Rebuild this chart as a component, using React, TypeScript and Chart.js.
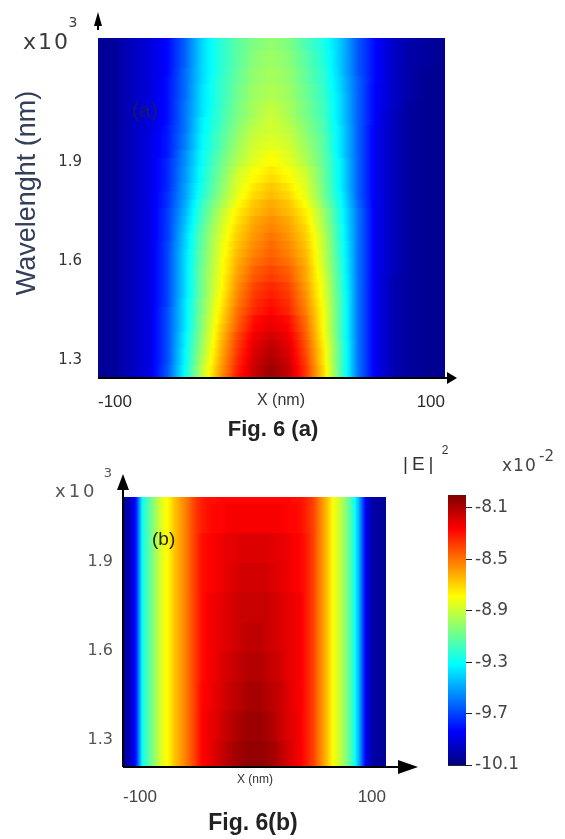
import React, { useEffect, useRef } from "react";
import { Chart, registerables } from "chart.js";

Chart.register(...registerables);

// ---------------- data ----------------
// colour scale (|E|^2, x10^-2)
const COLOR_MIN = -10.1;
const COLOR_MAX = -8.0;
const COLOR_TICKS = [-8.1, -8.5, -8.9, -9.3, -9.7, -10.1];

// shared axis ticks
const WAVELENGTH_TICKS = [1.3, 1.6, 1.9];
const X_TICKS = [-100, 100];

// Fig. 6 (a): one row of |E|^2 per wavelength, one value per X_A
const X_A = [-100, -90, -80, -70, -60, -50, -40, -30, -20, -10, 0, 10, 20, 30, 40, 50, 60, 70, 80, 90, 100];
const WAVELENGTH_A = [
  1.25, 1.275, 1.3, 1.325, 1.35, 1.375, 1.4, 1.425, 1.45, 1.475, 1.5, 1.525, 1.55, 1.575, 1.6, 1.625, 1.65, 1.675,
  1.7, 1.725, 1.75, 1.775, 1.8, 1.825, 1.85, 1.875, 1.9, 1.925, 1.95, 1.975, 2.0, 2.025, 2.05, 2.075, 2.1, 2.125,
  2.15, 2.175, 2.2, 2.225, 2.25, 2.275,
];
const FIELD_A = [
  [-10.06, -10.04, -9.97, -9.89, -9.66, -9.30, -8.92, -8.59, -8.32, -8.15, -8.06, -8.15, -8.38, -8.71, -9.16, -9.60, -9.87, -9.99, -10.04, -10.06, -10.06],
  [-10.06, -10.04, -9.97, -9.89, -9.66, -9.30, -8.92, -8.61, -8.34, -8.15, -8.06, -8.15, -8.38, -8.71, -9.16, -9.60, -9.87, -9.99, -10.04, -10.06, -10.06],
  [-10.06, -10.04, -9.97, -9.89, -9.68, -9.32, -8.95, -8.63, -8.36, -8.17, -8.08, -8.17, -8.40, -8.74, -9.16, -9.60, -9.87, -9.99, -10.04, -10.06, -10.06],
  [-10.06, -10.04, -9.97, -9.89, -9.68, -9.32, -8.97, -8.65, -8.38, -8.19, -8.11, -8.19, -8.42, -8.74, -9.16, -9.60, -9.87, -9.99, -10.04, -10.06, -10.06],
  [-10.06, -10.04, -9.97, -9.89, -9.68, -9.34, -8.99, -8.67, -8.40, -8.21, -8.13, -8.21, -8.44, -8.76, -9.16, -9.60, -9.87, -9.99, -10.04, -10.06, -10.06],
  [-10.06, -10.04, -9.97, -9.89, -9.68, -9.34, -9.01, -8.69, -8.42, -8.23, -8.17, -8.23, -8.46, -8.78, -9.18, -9.60, -9.87, -9.99, -10.04, -10.06, -10.06],
  [-10.06, -10.04, -9.97, -9.89, -9.68, -9.37, -9.03, -8.71, -8.46, -8.27, -8.21, -8.27, -8.48, -8.80, -9.18, -9.60, -9.87, -9.99, -10.04, -10.06, -10.06],
  [-10.06, -10.04, -9.97, -9.89, -9.68, -9.37, -9.03, -8.74, -8.48, -8.29, -8.23, -8.29, -8.50, -8.80, -9.18, -9.60, -9.87, -9.99, -10.04, -10.06, -10.06],
  [-10.06, -10.04, -9.97, -9.89, -9.68, -9.37, -9.05, -8.76, -8.50, -8.34, -8.27, -8.34, -8.53, -8.80, -9.18, -9.60, -9.87, -9.99, -10.04, -10.06, -10.06],
  [-10.06, -10.04, -9.97, -9.89, -9.70, -9.37, -9.05, -8.78, -8.53, -8.36, -8.29, -8.36, -8.55, -8.82, -9.18, -9.60, -9.87, -9.99, -10.04, -10.06, -10.06],
  [-10.06, -10.04, -9.97, -9.89, -9.70, -9.39, -9.07, -8.80, -8.55, -8.38, -8.32, -8.38, -8.57, -8.84, -9.18, -9.60, -9.87, -9.99, -10.04, -10.06, -10.06],
  [-10.06, -10.04, -9.97, -9.89, -9.70, -9.39, -9.07, -8.82, -8.57, -8.40, -8.34, -8.40, -8.59, -8.84, -9.20, -9.60, -9.87, -9.99, -10.04, -10.06, -10.06],
  [-10.06, -10.04, -9.97, -9.89, -9.70, -9.39, -9.07, -8.82, -8.59, -8.44, -8.38, -8.44, -8.61, -8.86, -9.20, -9.60, -9.87, -9.99, -10.04, -10.06, -10.06],
  [-10.06, -10.04, -9.97, -9.89, -9.70, -9.39, -9.07, -8.84, -8.61, -8.46, -8.40, -8.46, -8.61, -8.88, -9.22, -9.60, -9.87, -9.97, -10.04, -10.06, -10.06],
  [-10.06, -10.04, -9.97, -9.89, -9.70, -9.39, -9.09, -8.84, -8.63, -8.50, -8.44, -8.50, -8.63, -8.90, -9.22, -9.60, -9.87, -9.97, -10.04, -10.06, -10.06],
  [-10.06, -10.04, -9.97, -9.89, -9.70, -9.39, -9.09, -8.86, -8.65, -8.53, -8.46, -8.53, -8.65, -8.90, -9.24, -9.60, -9.87, -9.97, -10.04, -10.06, -10.06],
  [-10.06, -10.04, -9.97, -9.89, -9.70, -9.41, -9.11, -8.86, -8.67, -8.55, -8.48, -8.55, -8.67, -8.92, -9.24, -9.60, -9.87, -9.97, -10.04, -10.06, -10.06],
  [-10.06, -10.04, -9.97, -9.89, -9.72, -9.41, -9.11, -8.88, -8.69, -8.57, -8.50, -8.57, -8.69, -8.92, -9.26, -9.60, -9.87, -9.97, -10.04, -10.06, -10.06],
  [-10.06, -10.04, -9.97, -9.89, -9.72, -9.43, -9.13, -8.90, -8.71, -8.59, -8.53, -8.59, -8.71, -8.95, -9.26, -9.60, -9.87, -9.97, -10.04, -10.06, -10.06],
  [-10.06, -10.04, -9.97, -9.89, -9.72, -9.45, -9.16, -8.92, -8.74, -8.61, -8.55, -8.61, -8.74, -8.97, -9.28, -9.60, -9.87, -9.97, -10.04, -10.06, -10.06],
  [-10.06, -10.04, -9.97, -9.89, -9.72, -9.47, -9.18, -8.95, -8.76, -8.65, -8.59, -8.65, -8.76, -8.99, -9.28, -9.60, -9.87, -9.97, -10.04, -10.06, -10.06],
  [-10.06, -10.04, -9.97, -9.89, -9.74, -9.49, -9.20, -8.99, -8.80, -8.67, -8.61, -8.67, -8.80, -9.03, -9.30, -9.62, -9.87, -9.97, -10.04, -10.06, -10.06],
  [-10.06, -10.04, -9.97, -9.89, -9.74, -9.51, -9.24, -9.03, -8.84, -8.71, -8.65, -8.71, -8.84, -9.07, -9.32, -9.64, -9.87, -9.97, -10.04, -10.06, -10.06],
  [-10.06, -10.04, -9.97, -9.89, -9.76, -9.51, -9.26, -9.05, -8.86, -8.74, -8.67, -8.74, -8.86, -9.07, -9.34, -9.64, -9.87, -9.97, -10.04, -10.06, -10.06],
  [-10.06, -10.04, -9.97, -9.89, -9.76, -9.53, -9.28, -9.07, -8.88, -8.78, -8.71, -8.78, -8.88, -9.09, -9.34, -9.64, -9.87, -9.97, -10.04, -10.06, -10.06],
  [-10.06, -10.04, -9.97, -9.89, -9.76, -9.53, -9.28, -9.09, -8.90, -8.80, -8.74, -8.80, -8.90, -9.09, -9.34, -9.64, -9.87, -9.97, -10.04, -10.06, -10.06],
  [-10.06, -10.04, -9.97, -9.89, -9.76, -9.55, -9.30, -9.11, -8.95, -8.84, -8.78, -8.84, -8.95, -9.11, -9.34, -9.64, -9.87, -9.97, -10.04, -10.06, -10.06],
  [-10.06, -10.04, -9.97, -9.89, -9.79, -9.55, -9.30, -9.13, -8.97, -8.86, -8.80, -8.86, -8.97, -9.11, -9.37, -9.64, -9.87, -9.97, -10.04, -10.06, -10.06],
  [-10.06, -10.04, -9.97, -9.89, -9.79, -9.58, -9.32, -9.16, -8.99, -8.88, -8.84, -8.88, -8.99, -9.13, -9.37, -9.64, -9.87, -9.97, -10.04, -10.06, -10.06],
  [-10.06, -10.04, -9.97, -9.89, -9.79, -9.58, -9.32, -9.16, -9.01, -8.90, -8.86, -8.90, -9.01, -9.13, -9.37, -9.64, -9.87, -9.97, -10.04, -10.06, -10.06],
  [-10.06, -10.04, -9.97, -9.91, -9.79, -9.60, -9.34, -9.18, -9.03, -8.92, -8.88, -8.92, -9.03, -9.16, -9.37, -9.64, -9.87, -9.97, -10.04, -10.06, -10.06],
  [-10.06, -10.04, -9.97, -9.91, -9.81, -9.60, -9.34, -9.20, -9.05, -8.95, -8.88, -8.95, -9.05, -9.16, -9.39, -9.64, -9.85, -9.97, -10.04, -10.06, -10.06],
  [-10.06, -10.04, -9.97, -9.91, -9.81, -9.60, -9.37, -9.20, -9.07, -8.97, -8.90, -8.97, -9.07, -9.18, -9.39, -9.64, -9.85, -9.97, -10.04, -10.06, -10.06],
  [-10.06, -10.04, -9.97, -9.91, -9.81, -9.60, -9.37, -9.22, -9.07, -8.97, -8.92, -8.97, -9.07, -9.18, -9.39, -9.64, -9.85, -9.95, -10.04, -10.06, -10.06],
  [-10.06, -10.04, -9.97, -9.91, -9.81, -9.62, -9.37, -9.22, -9.09, -8.99, -8.95, -8.99, -9.09, -9.20, -9.39, -9.64, -9.85, -9.95, -10.02, -10.06, -10.06],
  [-10.06, -10.04, -9.97, -9.91, -9.81, -9.62, -9.37, -9.22, -9.09, -8.99, -8.95, -8.99, -9.09, -9.20, -9.41, -9.64, -9.85, -9.95, -10.02, -10.06, -10.06],
  [-10.06, -10.04, -9.97, -9.91, -9.81, -9.62, -9.39, -9.22, -9.11, -9.01, -8.97, -9.01, -9.11, -9.22, -9.41, -9.64, -9.83, -9.95, -10.02, -10.06, -10.06],
  [-10.06, -10.04, -9.97, -9.91, -9.83, -9.62, -9.39, -9.24, -9.11, -9.01, -8.97, -9.01, -9.11, -9.22, -9.43, -9.66, -9.83, -9.95, -10.02, -10.06, -10.06],
  [-10.06, -10.04, -9.97, -9.91, -9.83, -9.64, -9.39, -9.24, -9.13, -9.03, -8.99, -9.03, -9.13, -9.24, -9.43, -9.66, -9.83, -9.95, -10.02, -10.04, -10.06],
  [-10.06, -10.04, -9.97, -9.91, -9.83, -9.64, -9.39, -9.24, -9.13, -9.03, -8.99, -9.03, -9.13, -9.24, -9.43, -9.66, -9.83, -9.95, -10.02, -10.04, -10.06],
  [-10.06, -10.04, -9.97, -9.91, -9.83, -9.64, -9.39, -9.24, -9.13, -9.05, -9.01, -9.05, -9.16, -9.26, -9.43, -9.66, -9.83, -9.95, -10.02, -10.04, -10.06],
  [-10.06, -10.04, -9.97, -9.91, -9.83, -9.64, -9.39, -9.24, -9.13, -9.05, -9.01, -9.05, -9.16, -9.26, -9.43, -9.66, -9.83, -9.95, -10.02, -10.04, -10.06],
];

// Fig. 6 (b)
const X_B = [
  -100, -95, -90, -85, -80, -75, -70, -65, -60, -55, -50, -45, -40, -35, -30, -25, -20, -15, -10, -5, 0,
  5, 10, 15, 20, 25, 30, 35, 40, 45, 50, 55, 60, 65, 70, 75, 80, 85, 90, 95, 100,
];
const WAVELENGTH_B = [1.25, 1.35, 1.45, 1.55, 1.65, 1.75, 1.85, 1.95, 2.05, 2.15];
// edges (x = -100 .. -45 and 45 .. 100) are the same at every wavelength
const FIELD_B_LEFT = [-10.04, -9.99, -9.79, -9.26, -9.13, -8.97, -8.84, -8.76, -8.65, -8.57, -8.48, -8.38];
const FIELD_B_RIGHT = [-8.40, -8.53, -8.65, -8.80, -8.90, -9.05, -9.22, -9.51, -9.89, -10.02, -10.04, -10.04];
// core (x = -40 .. 40) per wavelength
const FIELD_B_CORE = [
  [-8.27, -8.23, -8.19, -8.15, -8.11, -8.08, -8.06, -8.04, -8.04, -8.04, -8.06, -8.08, -8.13, -8.17, -8.21, -8.25, -8.32],
  [-8.27, -8.23, -8.21, -8.17, -8.13, -8.11, -8.08, -8.06, -8.06, -8.06, -8.08, -8.11, -8.15, -8.19, -8.21, -8.25, -8.32],
  [-8.27, -8.25, -8.21, -8.19, -8.15, -8.13, -8.11, -8.08, -8.08, -8.08, -8.11, -8.13, -8.15, -8.19, -8.23, -8.25, -8.32],
  [-8.29, -8.25, -8.23, -8.19, -8.17, -8.15, -8.13, -8.11, -8.11, -8.11, -8.13, -8.15, -8.17, -8.21, -8.23, -8.25, -8.32],
  [-8.29, -8.25, -8.23, -8.21, -8.19, -8.17, -8.15, -8.13, -8.13, -8.13, -8.15, -8.17, -8.19, -8.21, -8.23, -8.25, -8.32],
  [-8.29, -8.25, -8.23, -8.21, -8.19, -8.17, -8.15, -8.15, -8.15, -8.15, -8.15, -8.17, -8.19, -8.21, -8.23, -8.25, -8.32],
  [-8.29, -8.27, -8.25, -8.23, -8.21, -8.19, -8.17, -8.17, -8.17, -8.17, -8.17, -8.19, -8.21, -8.23, -8.25, -8.27, -8.32],
  [-8.29, -8.27, -8.25, -8.23, -8.21, -8.21, -8.19, -8.19, -8.19, -8.19, -8.19, -8.21, -8.21, -8.23, -8.25, -8.27, -8.32],
  [-8.32, -8.29, -8.27, -8.27, -8.25, -8.25, -8.25, -8.25, -8.25, -8.25, -8.25, -8.25, -8.25, -8.27, -8.27, -8.29, -8.34],
  [-8.32, -8.29, -8.29, -8.27, -8.27, -8.27, -8.27, -8.27, -8.27, -8.27, -8.27, -8.27, -8.27, -8.27, -8.29, -8.29, -8.34],
];
const FIELD_B = FIELD_B_CORE.map((core) => [...FIELD_B_LEFT, ...core, ...FIELD_B_RIGHT]);

// ---------------- colour map ----------------
function jet(t: number): string {
  const tt = Math.min(1, Math.max(0, t));
  const c = (v: number) => Math.round(255 * Math.min(1, Math.max(0, 1.5 - Math.abs(v))));
  return `rgb(${c(4 * tt - 3)},${c(4 * tt - 2)},${c(4 * tt - 1)})`;
}
const valueColor = (v: number) => jet((v - COLOR_MIN) / (COLOR_MAX - COLOR_MIN));

function rowGradient(chart: any, xs: number[], vals: number[]) {
  const sx = chart.scales && chart.scales.x;
  const fallback = valueColor(vals[Math.floor(vals.length / 2)]);
  if (!sx || !chart.chartArea) return fallback;
  const p0 = sx.getPixelForValue(xs[0]);
  const p1 = sx.getPixelForValue(xs[xs.length - 1]);
  if (!isFinite(p0) || !isFinite(p1) || Math.abs(p1 - p0) < 1) return fallback;
  const g = chart.ctx.createLinearGradient(p0, 0, p1, 0);
  const SUB = 6;
  const clamp = (f: number) => Math.min(1, Math.max(0, f));
  for (let i = 0; i < xs.length - 1; i++) {
    const a = sx.getPixelForValue(xs[i]);
    const b = sx.getPixelForValue(xs[i + 1]);
    for (let k = 0; k < SUB; k++) {
      const f = k / SUB;
      g.addColorStop(clamp((a + (b - a) * f - p0) / (p1 - p0)), valueColor(vals[i] + (vals[i + 1] - vals[i]) * f));
    }
  }
  g.addColorStop(1, valueColor(vals[vals.length - 1]));
  return g;
}

// decorative axis lines with arrow heads
const axisArrows = {
  id: "axisArrows",
  afterDraw(chart: any, _args: any, o: any) {
    const { ctx, chartArea: a } = chart;
    if (!o || !a) return;
    ctx.save();
    ctx.strokeStyle = "#000";
    ctx.fillStyle = "#000";
    ctx.lineWidth = o.lineWidth || 2;
    if (o.x) {
      const tip = a.right + o.x.extend;
      ctx.beginPath();
      ctx.moveTo(a.left, a.bottom);
      ctx.lineTo(tip - o.x.head, a.bottom);
      ctx.stroke();
      ctx.beginPath();
      ctx.moveTo(tip, a.bottom);
      ctx.lineTo(tip - o.x.head, a.bottom - o.x.half);
      ctx.lineTo(tip - o.x.head, a.bottom + o.x.half);
      ctx.closePath();
      ctx.fill();
    }
    if (o.y) {
      const tip = a.top - o.y.extend;
      const from = o.y.gap != null ? a.top - o.y.gap : a.bottom;
      ctx.beginPath();
      ctx.moveTo(a.left, from);
      ctx.lineTo(a.left, tip + o.y.head);
      ctx.stroke();
      ctx.beginPath();
      ctx.moveTo(a.left, tip);
      ctx.lineTo(a.left - o.y.half, tip + o.y.head);
      ctx.lineTo(a.left + o.y.half, tip + o.y.head);
      ctx.closePath();
      ctx.fill();
    }
    ctx.restore();
  },
};

function heatmapConfig(p: any): any {
  const { xs, ys, field } = p;
  return {
    type: "bar",
    data: {
      datasets: [
        {
          data: ys.map((w: number) => ({ y: w, x: [xs[0], xs[xs.length - 1]] })),
          backgroundColor: (c: any) =>
            c.type === "data" && c.dataIndex != null
              ? rowGradient(c.chart, xs, field[c.dataIndex])
              : "rgba(0,0,0,0)",
          borderWidth: 0,
          barPercentage: 1,
          categoryPercentage: 1,
          inflateAmount: 0.7,
          clip: 0,
        },
      ],
    },
    plugins: [axisArrows],
    options: {
      indexAxis: "y",
      responsive: false,
      animation: false,
      devicePixelRatio: 1,
      events: [],
      layout: { padding: p.padding },
      plugins: { legend: { display: false }, tooltip: { enabled: false }, axisArrows: p.arrows },
      scales: {
        x: {
          type: "linear",
          min: xs[0],
          max: xs[xs.length - 1],
          offset: false,
          bounds: "data",
          grid: { display: false, drawTicks: false, offset: false },
          border: { display: false },
          afterBuildTicks: (s: any) => {
            s.ticks = X_TICKS.map((v) => ({ value: v }));
          },
          afterFit: (s: any) => {
            s.height = p.xHeight;
          },
          ticks: {
            align: "inner",
            maxRotation: 0,
            padding: p.xTickPad,
            color: p.xTickColor,
            font: p.xTickFont,
            callback: (v: any) => String(v),
          },
        },
        y: {
          type: "linear",
          min: p.yMin,
          max: p.yMax,
          offset: false,
          bounds: "data",
          grid: { display: false, drawTicks: false, offset: false },
          border: { display: false },
          afterBuildTicks: (s: any) => {
            s.ticks = WAVELENGTH_TICKS.map((v) => ({ value: v }));
          },
          afterFit: (s: any) => {
            s.width = p.yWidth;
          },
          ticks: {
            padding: p.yTickPad,
            color: p.yTickColor,
            font: p.yTickFont,
            callback: (v: any) => Number(v).toFixed(1),
          },
          title: p.yTitle || { display: false },
        },
      },
    },
  };
}

const configA = () =>
  heatmapConfig({
    xs: X_A,
    ys: WAVELENGTH_A,
    field: FIELD_A,
    yMin: 1.245,
    yMax: 2.275,
    padding: { top: 38, right: 25, left: 0, bottom: 0 },
    yWidth: 98,
    xHeight: 37,
    xTickPad: 14,
    xTickColor: "#2a2a2a",
    xTickFont: { family: "'Liberation Sans', Arial, sans-serif", size: 17 },
    yTickPad: 16,
    yTickColor: "#333",
    yTickFont: { family: "'DejaVu Sans', sans-serif", size: 15 },
    yTitle: {
      display: true,
      text: "    Wavelenght (nm)",
      color: "#34405a",
      font: { family: "'Liberation Sans', Arial, sans-serif", size: 27 },
      padding: { top: 11, bottom: 0 },
    },
    arrows: {
      lineWidth: 2,
      x: { extend: 12, head: 10, half: 6 },
      y: { extend: 26, head: 14, half: 4, gap: 8 },
    },
  });

const configB = () =>
  heatmapConfig({
    xs: X_B,
    ys: WAVELENGTH_B,
    field: FIELD_B,
    yMin: 1.209,
    yMax: 2.12,
    padding: { top: 57, right: 44, left: 0, bottom: 0 },
    yWidth: 123,
    xHeight: 72,
    xTickPad: 20,
    xTickColor: "#444",
    xTickFont: { family: "'Liberation Sans', Arial, sans-serif", size: 17 },
    yTickPad: 10,
    yTickColor: "#555",
    yTickFont: { family: "'DejaVu Sans', sans-serif", size: 16 },
    arrows: {
      lineWidth: 2,
      x: { extend: 32, head: 20, half: 7 },
      y: { extend: 23, head: 16, half: 6 },
    },
  });

const configC = (): any => ({
  type: "bar",
  data: {
    labels: ["|E|²"],
    datasets: [
      {
        data: [[COLOR_MIN, COLOR_MAX]],
        backgroundColor: (c: any) => {
          const fallback = jet(0.5);
          if (c.type !== "data" || !c.chart.chartArea || !c.chart.scales || !c.chart.scales.y) return fallback;
          const sy = c.chart.scales.y;
          const y0 = sy.getPixelForValue(COLOR_MIN);
          const y1 = sy.getPixelForValue(COLOR_MAX);
          if (!isFinite(y0) || !isFinite(y1) || Math.abs(y1 - y0) < 1) return fallback;
          const g = c.chart.ctx.createLinearGradient(0, y0, 0, y1);
          const N = 64;
          for (let k = 0; k <= N; k++) g.addColorStop(k / N, jet(k / N));
          return g;
        },
        borderWidth: 0,
        barPercentage: 1,
        categoryPercentage: 1,
      },
    ],
  },
  options: {
    responsive: false,
    animation: false,
    devicePixelRatio: 1,
    events: [],
    layout: { padding: { left: 58, top: 55, bottom: 74, right: 0 } },
    plugins: { legend: { display: false }, tooltip: { enabled: false } },
    scales: {
      x: { display: false },
      y: {
        position: "right",
        min: COLOR_MIN,
        max: COLOR_MAX,
        z: 1,
        grid: { display: true, color: "#222", lineWidth: 1, drawOnChartArea: true, drawTicks: true, tickLength: 6 },
        border: { display: false },
        afterBuildTicks: (s: any) => {
          s.ticks = COLOR_TICKS.map((v) => ({ value: v }));
        },
        afterFit: (s: any) => {
          s.width = 99;
        },
        ticks: {
          padding: 3,
          color: "#444",
          font: { family: "'DejaVu Sans', sans-serif", size: 17 },
          callback: (v: any) => Number(v).toFixed(1),
        },
      },
    },
  },
});

// ---------------- text helper ----------------
function Txt(props: any) {
  const { x, y, size, family, weight, color, anchor, spacing, children } = props;
  return (
    <div
      style={{
        position: "absolute",
        left: x,
        top: y,
        transform: anchor === "left" ? "translate(0,-50%)" : "translate(-50%,-50%)",
        fontFamily: family || "'Liberation Sans', Arial, sans-serif",
        fontSize: size,
        fontWeight: weight || "normal",
        letterSpacing: spacing || 0,
        lineHeight: 1,
        color: color || "#333",
        whiteSpace: "nowrap",
      }}
    >
      {children}
    </div>
  );
}

const DEJAVU = "'DejaVu Sans', sans-serif";

export default function App() {
  const refA = useRef<HTMLCanvasElement | null>(null);
  const refB = useRef<HTMLCanvasElement | null>(null);
  const refC = useRef<HTMLCanvasElement | null>(null);

  useEffect(() => {
    const a = new Chart(refA.current as HTMLCanvasElement, configA());
    const b = new Chart(refB.current as HTMLCanvasElement, configB());
    const c = new Chart(refC.current as HTMLCanvasElement, configC());
    return () => {
      a.destroy();
      b.destroy();
      c.destroy();
    };
  }, []);

  return (
    <div
      style={{
        position: "absolute",
        left: 0,
        top: 0,
        width: 565,
        height: 839,
        background: "#fff",
        overflow: "hidden",
      }}
    >
      <canvas ref={refA} width={470} height={415} style={{ position: "absolute", left: 0, top: 0 }} />
      <canvas ref={refB} width={430} height={399} style={{ position: "absolute", left: 0, top: 440 }} />
      <canvas ref={refC} width={175} height={399} style={{ position: "absolute", left: 390, top: 440 }} />

      {/* panel (a) texts */}
      <Txt x={23} y={42} size={22} family={DEJAVU} anchor="left" spacing={2} color="#3a3a3a">x10</Txt>
      <Txt x={73} y={22} size={14} family={DEJAVU} color="#3a3a3a">3</Txt>
      <Txt x={132} y={109} size={21} anchor="left" color="rgba(35,35,60,0.65)">(a)</Txt>
      <Txt x={281} y={400} size={16} color="#333">X (nm)</Txt>
      <Txt x={273} y={429} size={22} weight="bold" color="#222">Fig. 6 (a)</Txt>

      {/* panel (b) texts */}
      <Txt x={55} y={491} size={18} family={DEJAVU} anchor="left" spacing={3} color="#555">x10</Txt>
      <Txt x={108} y={472} size={13} family={DEJAVU} color="#555">3</Txt>
      <Txt x={152} y={538} size={19} anchor="left" color="#222">(b)</Txt>
      <Txt x={255} y={779} size={12} color="#333">X (nm)</Txt>
      <Txt x={253} y={822} size={23} weight="bold" color="#222">Fig. 6(b)</Txt>

      {/* colour bar texts */}
      <Txt x={403} y={463} size={19} anchor="left" spacing={4} color="#333">|E|</Txt>
      <Txt x={445} y={450} size={12} color="#333">2</Txt>
      <Txt x={502} y={465} size={17} family={DEJAVU} anchor="left" spacing={1} color="#444">x10</Txt>
      <Txt x={539} y={456} size={15} family={DEJAVU} anchor="left" color="#444">-2</Txt>
    </div>
  );
}
